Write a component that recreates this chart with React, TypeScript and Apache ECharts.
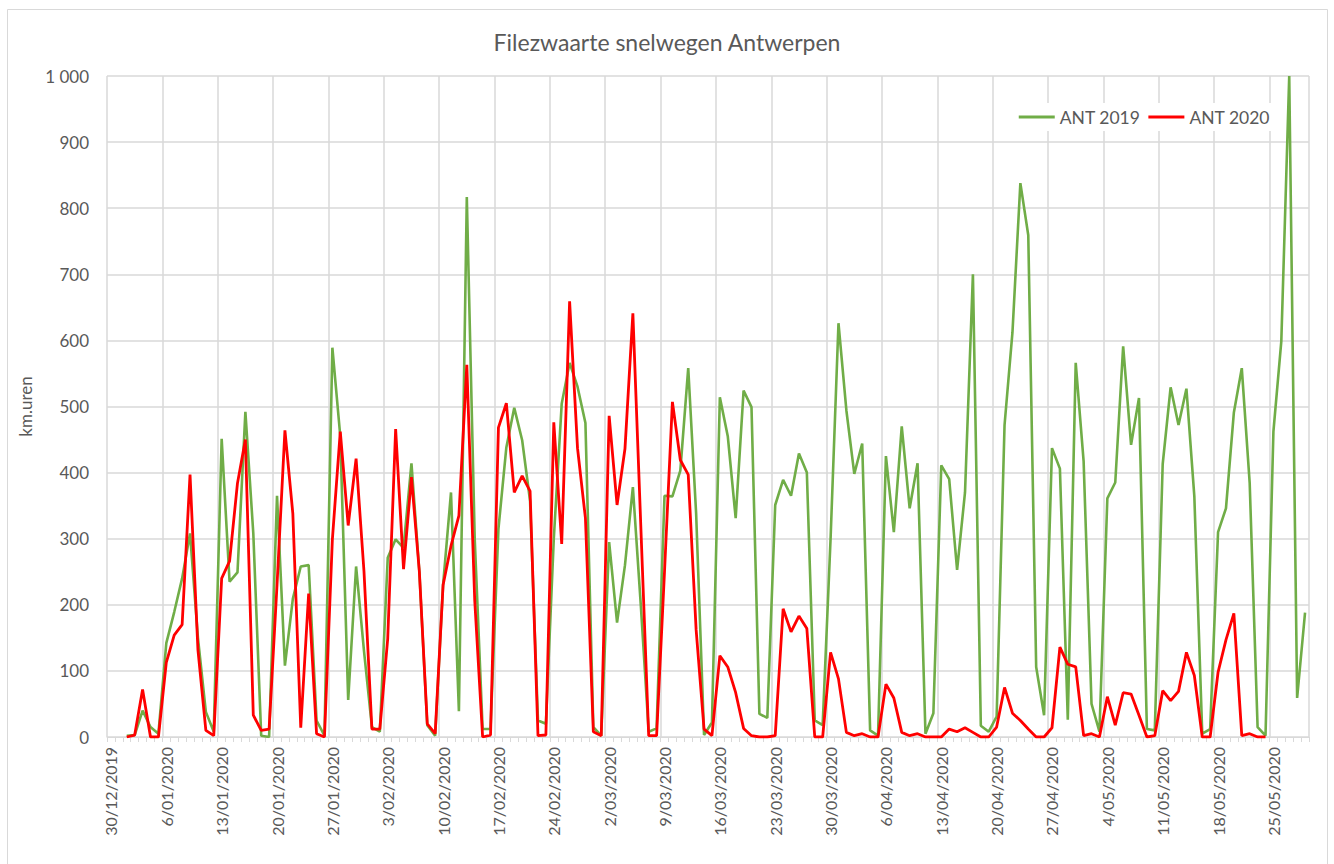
import React, { useEffect, useRef } from "react";
import * as echarts from "echarts";

// Category axis: every day from 30/12/2019 up to and including 29/05/2020
const AXIS_START = new Date(2019, 11, 30);
const AXIS_DAYS = 152;
const days: string[] = [];
for (let i = 0; i < AXIS_DAYS; i++) {
  const d = new Date(AXIS_START.getFullYear(), AXIS_START.getMonth(), AXIS_START.getDate() + i);
  days.push(`${d.getDate()}/${String(d.getMonth() + 1).padStart(2, "0")}/${d.getFullYear()}`);
}

// Both series start on 1/01 (two empty days at the start of the axis)
const leadingEmptyDays = 2;

// ANT 2019, daily values from 1/01 to 29/05
const ant2019: number[] = [
  2, 3, 40, 15, 5, 142, 189, 240, 308, 150, 38, 8, 451, 235, 249, 492, 308, 2, 0, 365,
  108, 209, 258, 260, 25, 2, 589, 455, 56, 258, 130, 15, 8, 271, 299, 286, 414, 250, 18, 2,
  230, 370, 39, 817, 300, 12, 12, 315, 438, 498, 449, 357, 25, 20, 300, 504, 566, 530, 475, 15,
  2, 295, 173, 260, 378, 200, 8, 13, 365, 364, 403, 558, 338, 3, 22, 514, 455, 331, 524, 499,
  35, 29, 351, 389, 365, 429, 400, 25, 18, 300, 626, 494, 398, 444, 10, 2, 425, 310, 470, 346,
  414, 5, 36, 411, 390, 253, 370, 700, 17, 8, 31, 472, 612, 838, 759, 106, 33, 437, 406, 26,
  566, 417, 50, 8, 361, 385, 591, 442, 513, 12, 10, 413, 529, 472, 527, 364, 5, 12, 310, 346,
  491, 558, 384, 15, 2, 462, 599, 1000, 59, 188,
];

// ANT 2020, daily values from 1/01 to 24/05
const ant2020: number[] = [
  0, 3, 72, 0, 0, 113, 154, 170, 397, 132, 10, 2, 240, 266, 384, 450, 33, 10, 12, 230,
  464, 338, 14, 217, 5, 0, 299, 462, 320, 421, 250, 12, 12, 149, 466, 254, 393, 250, 20, 5,
  230, 289, 335, 563, 207, 0, 3, 468, 505, 370, 395, 372, 2, 3, 476, 292, 659, 437, 331, 8,
  2, 486, 351, 436, 641, 320, 2, 2, 250, 507, 419, 397, 162, 12, 2, 123, 106, 67, 13, 2,
  0, 0, 2, 194, 159, 183, 164, 0, 0, 128, 88, 7, 2, 5, 0, 0, 80, 59, 7, 2,
  5, 0, 0, 0, 12, 8, 14, 7, 0, 0, 15, 75, 36, 25, 12, 0, 0, 14, 136, 110,
  106, 2, 5, 0, 61, 18, 67, 65, 33, 0, 2, 70, 55, 69, 128, 93, 0, 0, 98, 147,
  187, 2, 5, 0, 0,
];

const seriesNames = ["ANT 2019", "ANT 2020"];
const seriesColors = ["#70AD47", "#FF0000"];
const yTicks = { min: 0, max: 1000, interval: 100 };

const pad = (arr: number[]) => {
  const out: (number | null)[] = [];
  for (let i = 0; i < leadingEmptyDays; i++) out.push(null);
  for (const v of arr) out.push(v);
  while (out.length < AXIS_DAYS) out.push(null);
  return out;
};

const GRID = "#d9d9d9";
const TEXT = "#595959";
const FONT = "Lato, 'Open Sans', sans-serif";

export default function App() {
  const ref = useRef<HTMLDivElement>(null);
  useEffect(() => {
    if (!ref.current) return;
    const chart = echarts.init(ref.current, null, { renderer: "svg" });
    chart.setOption({
      animation: false,
      backgroundColor: "#ffffff",
      textStyle: { fontFamily: FONT },
      title: {
        text: "Filezwaarte snelwegen Antwerpen",
        left: "center",
        top: 25,
        textStyle: { color: TEXT, fontSize: 23, fontWeight: "normal", fontFamily: FONT },
      },
      graphic: [
        {
          type: "rect",
          shape: { x: 7.5, y: 9.5, width: 1320, height: 880 },
          style: { fill: "none", stroke: GRID, lineWidth: 1 },
          silent: true,
        },
      ],
      legend: {
        data: seriesNames,
        right: 60,
        top: 103,
        icon: "rect",
        itemWidth: 36,
        itemHeight: 3,
        itemGap: 8,
        padding: [5, 4],
        backgroundColor: "#ffffff",
        textStyle: { color: TEXT, fontSize: 17.5, fontFamily: FONT },
      },
      grid: { left: 107, right: 25, top: 76, bottom: 127, containLabel: false },
      xAxis: {
        type: "category",
        data: days,
        boundaryGap: true,
        axisLine: { show: true, lineStyle: { color: GRID, width: 1 } },
        axisTick: { show: true, interval: 0, length: 5, lineStyle: { color: GRID } },
        axisLabel: {
          interval: 6,
          rotate: 90,
          margin: 10,
          color: TEXT,
          fontSize: 16,
          fontFamily: FONT,
        },
        splitLine: { show: true, interval: 6, lineStyle: { color: GRID, width: 1.5 } },
      },
      yAxis: {
        type: "value",
        min: yTicks.min,
        max: yTicks.max,
        interval: yTicks.interval,
        name: "km.uren",
        nameLocation: "middle",
        nameGap: 66,
        nameRotate: 90,
        nameTextStyle: { color: TEXT, fontSize: 17, fontFamily: FONT },
        axisLine: { show: false },
        axisTick: { show: false },
        axisLabel: {
          margin: 18,
          color: TEXT,
          fontSize: 17,
          fontFamily: FONT,
          formatter: (v: number) => String(v).replace(/\B(?=(\d{3})+(?!\d))/g, " "),
        },
        splitLine: { show: true, lineStyle: { color: GRID, width: 1.5 } },
      },
      series: [
        {
          name: seriesNames[0],
          type: "line",
          data: pad(ant2019),
          showSymbol: false,
          symbol: "none",
          color: seriesColors[0],
          lineStyle: { color: seriesColors[0], width: 2.6 },
          z: 2,
        },
        {
          name: seriesNames[1],
          type: "line",
          data: pad(ant2020),
          showSymbol: false,
          symbol: "none",
          color: seriesColors[1],
          lineStyle: { color: seriesColors[1], width: 2.8 },
          z: 3,
        },
      ],
    });
    return () => chart.dispose();
  }, []);
  return (
    <div
      ref={ref}
      style={{ position: "absolute", left: 0, top: 0, width: 1334, height: 864 }}
    />
  );
}
